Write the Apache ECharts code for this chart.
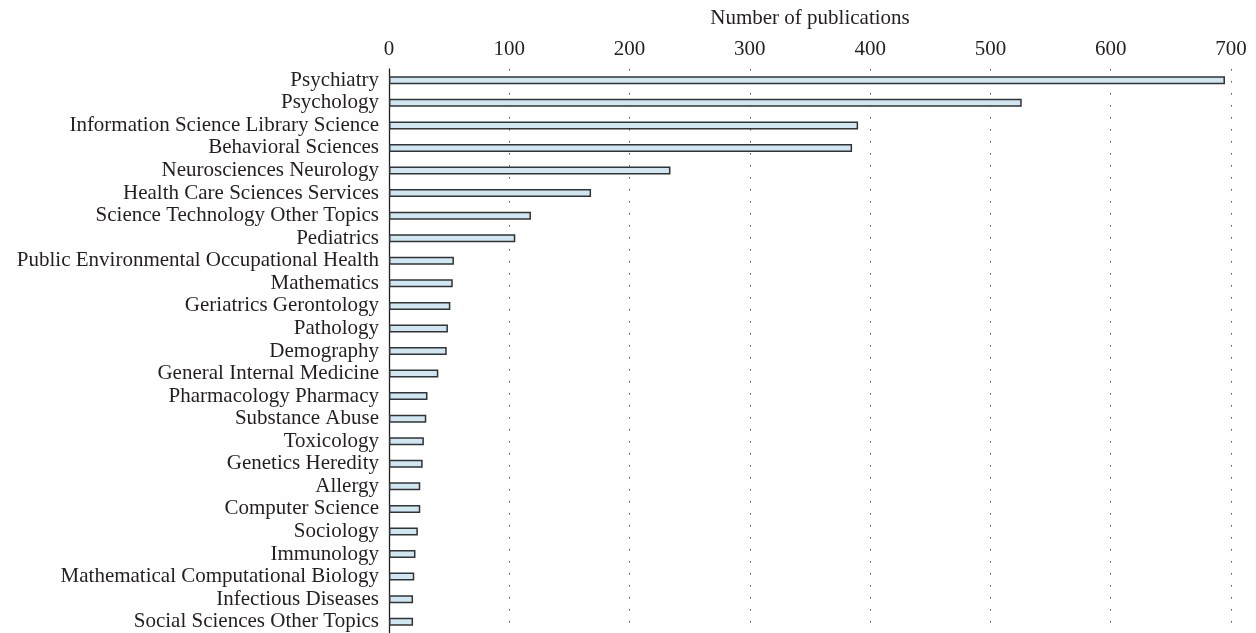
<!DOCTYPE html>
<html>
<head>
<meta charset="utf-8">
<script src="https://cdn.jsdelivr.net/npm/echarts@6/dist/echarts.min.js"></script>
<style>
html,body{margin:0;padding:0;background:#fff;}
#c{width:1256px;height:633px;}
</style>
</head>
<body>
<div id="c"></div>
<script>
const categories = [
  "Psychiatry",
  "Psychology",
  "Information Science Library Science",
  "Behavioral Sciences",
  "Neurosciences Neurology",
  "Health Care Sciences Services",
  "Science Technology Other Topics",
  "Pediatrics",
  "Public Environmental Occupational Health",
  "Mathematics",
  "Geriatrics Gerontology",
  "Pathology",
  "Demography",
  "General Internal Medicine",
  "Pharmacology Pharmacy",
  "Substance Abuse",
  "Toxicology",
  "Genetics Heredity",
  "Allergy",
  "Computer Science",
  "Sociology",
  "Immunology",
  "Mathematical Computational Biology",
  "Infectious Diseases",
  "Social Sciences Other Topics"
];
const publications = [695, 526, 390, 385, 234, 168, 118, 105, 54, 53, 51, 49, 48, 41, 32, 31, 29, 28, 26, 26, 24, 22, 21, 20, 20];
const axisTitle = "Number of publications";

const font = "'Liberation Serif', 'DejaVu Serif', serif";
const chart = echarts.init(document.getElementById('c'));
chart.setOption({
  backgroundColor: '#ffffff',
  animation: false,
  grid: { left: 389, right: 25, top: 69, height: 565, containLabel: false },
  xAxis: {
    type: 'value',
    position: 'top',
    min: 0, max: 700, interval: 100,
    name: axisTitle,
    nameLocation: 'middle',
    nameGap: 40,
    nameTextStyle: { fontFamily: font, fontSize: 21, color: '#231f20' },
    axisLine: { show: false },
    axisTick: { show: false },
    axisLabel: { fontFamily: font, fontSize: 21, color: '#231f20', margin: 9 },
    splitLine: { show: true, lineStyle: { color: '#555', width: 1, type: [1.5, 10.5] } }
  },
  yAxis: {
    type: 'category',
    inverse: true,
    data: categories,
    axisLine: { show: true, lineStyle: { color: '#231f20', width: 1.3 } },
    axisTick: { show: false },
    axisLabel: { fontFamily: font, fontSize: 21, color: '#231f20', margin: 10, interval: 0 },
    splitLine: { show: false }
  },
  series: [{
    type: 'bar',
    data: publications,
    barWidth: 8,
    itemStyle: { color: '#cfe6f3', borderColor: '#333333', borderWidth: 1.5 }
  }]
});
</script>
</body>
</html>
